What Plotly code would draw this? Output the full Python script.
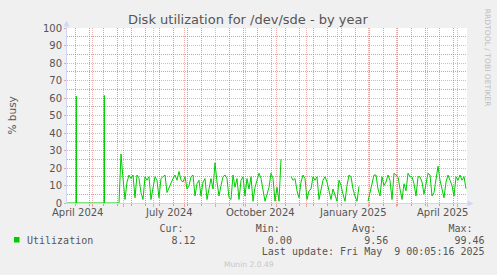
import plotly.graph_objects as go
import pandas as pd

# ---------------- data ----------------
range_start = "2024-04-05 17:00"
range_end = "2025-05-10 17:00"

label_dates = ["2024-04-16", "2024-07-16 12:00", "2024-10-16 12:00",
               "2025-01-16 12:00", "2025-04-16"]
label_text = ["April 2024", "July 2024", "October 2024", "January 2025", "April 2025"]

# early period: flat zero with two short spikes
early_dates = ["2024-04-05 17:00", "2024-04-14 18:00", "2024-04-15 00:00",
               "2024-04-15 06:00", "2024-05-12 18:00", "2024-05-13 00:00",
               "2024-05-13 06:00"]
early_vals = [0, 0, 61, 0, 0, 61.5, 0]

seg1_start = "2024-05-27 17:00"
seg1_vals = [0, 28, 14, 2, 12, 16, 14, 16, 3, 16, 14, 6, 2, 15, 13, 15, 2, 9, 15, 13,
             3, 14, 15, 16, 6, 9, 11, 14, 16, 13, 18, 13, 12, 15, 8, 10, 15, 16, 4, 11,
             13, 4, 12, 14, 2, 9, 14, 8, 23, 12, 4, 10, 15, 16, 14, 3, 2, 16, 9, 14,
             2, 13, 15, 4, 14, 8, 15, 1, 9, 13, 17, 14, 8, 1, 5, 9, 17, 14, 1, 9,
             1, 25]

seg2_start = "2024-11-15 17:00"
seg2_vals = [15, 13, 14, 7, 3, 12, 16, 14, 2, 7, 8, 15, 13, 15, 2, 8, 13, 15, 12, 7,
             2, 8, 5, 1, 13, 10, 5, 1, 10, 16, 15, 8, 4, 1, 9.5]

seg3_start = "2025-01-31 17:00"
seg3_vals = [1, 6, 11, 16, 16, 8, 4, 15, 10, 12, 16, 13, 2, 17, 16, 15, 8, 2, 11, 7,
             17, 15, 15, 11, 4, 15, 15, 12, 5, 11, 17, 16, 4, 6, 14, 21, 13, 7, 3, 12,
             16, 13, 10, 4, 15, 13, 16, 13, 15, 8.12]

series_name = "Utilization"
cur_val, min_val, avg_val, max_val = 8.12, 0.00, 9.56, 99.46
last_update = "Last update: Fri May  9 00:05:16 2025"
title_text = "Disk utilization for /dev/sde - by year"
y_title = "% busy"
version_text = "Munin 2.0.49"
watermark = "RRDTOOL / TOBI OETIKER"

# ---------------- styling ----------------
GREEN = "#00CC00"
AXIS = "#CFD6F8"
MAJOR = "rgba(222,79,79,0.45)"
MINOR = "rgba(143,143,143,0.7)"
FONT = "#555555"
SANS = "DejaVu Sans"
MONO = "DejaVu Sans Mono"

W, H = 497, 275
L, R, T, B = 67, 30, 28, 72
PW, PH = W - L - R, H - T - B


def px(x):
    return (x - L) / PW


def py(y):
    return (T + PH - y) / PH


d1 = list(pd.date_range(seg1_start, periods=len(seg1_vals), freq="2D"))
d2 = list(pd.date_range(seg2_start, periods=len(seg2_vals), freq="2D"))
d3 = list(pd.date_range(seg3_start, periods=len(seg3_vals), freq="2D"))

fig = go.Figure()
line = dict(color=GREEN, width=1)
fig.add_trace(go.Scatter(x=list(pd.to_datetime(early_dates)) + d1,
                         y=early_vals + seg1_vals, mode="lines", line=line,
                         showlegend=False, hoverinfo="skip"))
fig.add_trace(go.Scatter(x=d2, y=seg2_vals, mode="lines", line=line,
                         showlegend=False, hoverinfo="skip"))
fig.add_trace(go.Scatter(x=d3, y=seg3_vals, mode="lines", line=line,
                         showlegend=False, hoverinfo="skip"))

fig.update_layout(
    width=W, height=H,
    margin=dict(l=L, r=R, t=T, b=B, autoexpand=False),
    paper_bgcolor="#F0F0F0", plot_bgcolor="#FFFFFF",
    font=dict(family=SANS, size=10, color=FONT),
    xaxis=dict(type="date", range=[range_start, range_end],
               tick0="2024-05-01", dtick="M1", showticklabels=False,
               showgrid=True, gridcolor=MAJOR, griddash="1px,1px", gridwidth=1,
               ticks="outside", ticklen=3, tickcolor=MAJOR,
               showline=True, linecolor=AXIS, linewidth=1,
               zeroline=False, layer="below traces",
               minor=dict(tick0="2024-04-14", dtick=14 * 86400000,
                          showgrid=True, gridcolor=MINOR, griddash="1px,1px",
                          ticks="outside", ticklen=2, tickcolor=MINOR)),
    yaxis=dict(range=[0, 100], tick0=0, dtick=10,
               showgrid=True, gridcolor=MAJOR, griddash="1px,1px", gridwidth=1,
               ticks="outside", ticklen=2, tickcolor=MAJOR,
               tickfont=dict(family=SANS, size=10, color=FONT),
               showline=True, linecolor=AXIS, linewidth=1,
               zeroline=False, layer="below traces",
               minor=dict(dtick=5, showgrid=True, gridcolor=MINOR,
                          griddash="1px,1px")),
)

ann = []


def text(s, x, y, size=10, family=SANS, color=FONT, xanchor="center",
         angle=0, xref="paper"):
    ann.append(dict(text=s, x=x, y=y, xref=xref, yref="paper", showarrow=False,
                    xanchor=xanchor, yanchor="middle", textangle=angle,
                    borderpad=0, font=dict(size=size, family=family, color=color)))


text(title_text, px(248), py(19), size=13)
text(y_title, px(11), py(115.5), size=10.5, angle=-90)
for d, t in zip(label_dates, label_text):
    text(t, d, py(212.5), xref="x")

nb = "\u00a0"
header = (" " * 22 + "Cur:" + " " * 12 + "Min:" + " " * 12 + "Avg:" + " " * 12 + "Max:")
values = f"{series_name:<20}{cur_val:8.2f}{min_val:16.2f}{avg_val:16.2f}{max_val:16.2f}"
upd = " " * 39 + last_update
text(header.replace(" ", nb), px(26), py(228), family=MONO, xanchor="left")
text(values.replace(" ", nb), px(26), py(240), family=MONO, xanchor="left")
text(upd.replace(" ", nb), px(26), py(251.7), family=MONO, xanchor="left")
text(version_text, px(248.5), py(264.3), size=7.6, color="#C8C8C8")
text(watermark, px(487), py(57.7), size=7.6, color="#BDBDBD", angle=90)

fig.update_layout(annotations=ann)

shapes = [
    dict(type="rect", xref="paper", yref="paper", x0=px(14), x1=px(19.5),
         y0=py(242.5), y1=py(237), fillcolor=GREEN, line=dict(width=0)),
    dict(type="line", xref="paper", yref="paper", x0=px(66.5), x1=px(66.5),
         y0=py(203), y1=py(25), line=dict(color=AXIS, width=1)),
    dict(type="path", xref="paper", yref="paper",
         path=f"M {px(66.5)} {py(20.5)} L {px(63.5)} {py(26.5)} L {px(69.5)} {py(26.5)} Z",
         fillcolor=AXIS, line=dict(width=0)),
    dict(type="line", xref="paper", yref="paper", x0=px(67), x1=px(469),
         y0=py(203.5), y1=py(203.5), line=dict(color=AXIS, width=1)),
    dict(type="path", xref="paper", yref="paper",
         path=f"M {px(473.5)} {py(203.5)} L {px(467.5)} {py(200.5)} L {px(467.5)} {py(206.5)} Z",
         fillcolor=AXIS, line=dict(width=0)),
]
fig.update_layout(shapes=shapes)

fig.write_html("out.html")
